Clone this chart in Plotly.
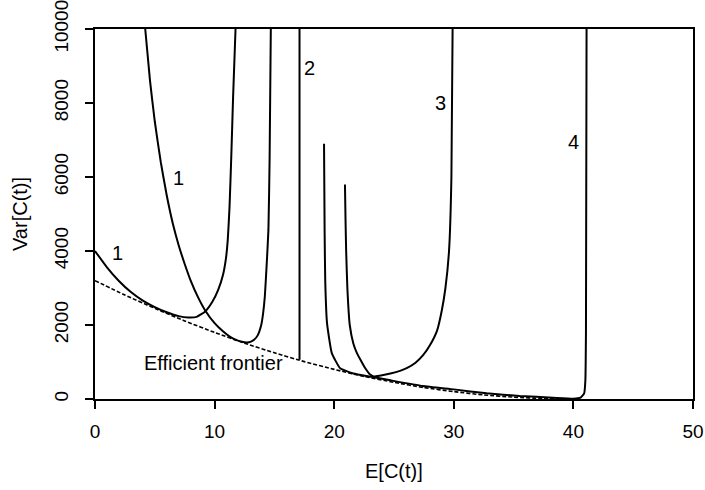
import plotly.graph_objects as go

# Efficient frontier (dotted)
frontier_x = [0, 2.5, 5, 7.5, 10, 12.5, 15, 17.5, 20, 22.5, 25, 27.5, 30, 32.5, 35, 37.5, 40]
frontier_y = [3200, 2810, 2450, 2110, 1800, 1510, 1250, 1010, 800, 610, 450, 310, 200, 110, 50, 12, 0]

# Curve "1" (lower, starting at x=0)
c1a_x = [0, 1, 2, 3, 4, 5, 6, 7, 7.8, 8.5, 9.2, 9.8, 10.3, 10.7, 10.95, 11.1, 11.25, 11.4, 11.55, 11.75]
c1a_y = [4000, 3560, 3190, 2890, 2660, 2485, 2345, 2240, 2205, 2220, 2360, 2620, 2950, 3350, 3800, 4300, 5200, 6600, 8200, 10000]

# Curve "1" (upper)
c1b_x = [4.2, 4.6, 5.0, 5.5, 6.0, 6.5, 7.0, 7.5, 8.0, 8.6, 9.2, 10.0, 10.7, 11.3, 11.85, 12.3, 12.7, 13.0, 13.3, 13.6, 13.9, 14.05, 14.2, 14.36, 14.5, 14.6, 14.7]
c1b_y = [10000, 8600, 7500, 6400, 5500, 4750, 4150, 3650, 3200, 2760, 2400, 2050, 1830, 1680, 1590, 1545, 1530, 1545, 1600, 1720, 2000, 2300, 2770, 3670, 4570, 6500, 10000]

# Curve "2" (vertical)
c2_x = [17.1, 17.1]
c2_y = [1060, 10000]

# Curve "3"
c3_x = [20.9, 20.95, 21.0, 21.1, 21.3, 21.6, 21.9, 22.3, 22.6, 23.0, 23.3, 23.8, 24.7, 25.5, 26.1, 26.8, 27.45, 28.0, 28.6, 29.0, 29.3, 29.6, 29.8, 29.9]
c3_y = [5800, 4800, 4000, 3000, 2000, 1500, 1240, 1000, 830, 660, 610, 630, 690, 760, 840, 980, 1190, 1450, 1850, 2400, 3000, 4000, 6000, 10000]

# Curve "4"
c4_x = [19.15, 19.2, 19.25, 19.4, 19.8, 20.5, 21.6, 23.1, 24.7, 27.4, 30.0, 32.75, 35.5, 38.3, 40.0, 40.6, 40.9, 41.0, 41.05, 41.1]
c4_y = [6900, 4500, 3200, 2050, 1240, 830, 690, 600, 505, 352, 260, 153, 81, 36, 10, 40, 150, 500, 1800, 10000]

label_text = ["1", "1", "2", "3", "4", "Efficient frontier"]
label_x = [1.9, 6.95, 17.9, 28.9, 40.0, 9.9]
label_y = [3950, 5980, 8950, 8000, 6950, 980]

x_ticks = [0, 10, 20, 30, 40, 50]
y_ticks = [0, 2000, 4000, 6000, 8000, 10000]

FONT = "Liberation Sans, Arial, sans-serif"
FS = 20
TFS = 19
LW = 2

fig = go.Figure()
fig.add_trace(go.Scatter(x=frontier_x, y=frontier_y, mode="lines",
                         line=dict(color="black", width=1.6, dash="4px,2px", shape="spline", smoothing=0.6)))
for xs, ys in [(c1a_x, c1a_y), (c1b_x, c1b_y), (c2_x, c2_y), (c3_x, c3_y), (c4_x, c4_y)]:
    fig.add_trace(go.Scatter(x=xs, y=ys, mode="lines",
                             line=dict(color="black", width=LW, shape="spline", smoothing=0.4)))

for t, x, y in zip(label_text, label_x, label_y):
    fig.add_annotation(x=x, y=y, text=t, showarrow=False,
                       font=dict(family=FONT, size=FS, color="black"))

fig.add_annotation(xref="paper", yref="paper", x=0.5, y=0, yshift=-85, text="E[C(t)]",
                   showarrow=False, font=dict(family=FONT, size=FS, color="black"))
fig.add_annotation(xref="paper", yref="paper", x=0, y=0.5, xshift=-88, text="Var[C(t)]",
                   textangle=-90, showarrow=False, font=dict(family=FONT, size=FS, color="black"))

fig.update_layout(
    width=705, height=490,
    margin=dict(l=95, r=12, t=29, b=91),
    paper_bgcolor="white", plot_bgcolor="white",
    showlegend=False,
    font=dict(family=FONT, size=FS, color="black"),
)
fig.update_xaxes(range=[0, 50], tickvals=x_ticks, ticktext=[str(v) for v in x_ticks],
                 ticks="outside", ticklen=8, tickwidth=1.5, automargin=False,
                 ticklabeloverflow="allow",
                 tickcolor="black", showline=True, linecolor="black", linewidth=1.5, mirror=True,
                 showgrid=False, zeroline=False, ticklabelstandoff=6,
                 tickfont=dict(family=FONT, size=TFS, color="black"))
fig.update_yaxes(range=[0, 10000], tickvals=y_ticks, ticktext=[str(v) for v in y_ticks],
                 ticks="outside", ticklen=8, tickwidth=1.5, automargin=False,
                 ticklabeloverflow="allow",
                 tickcolor="black", showline=True, linecolor="black", linewidth=1.5, mirror=True,
                 showgrid=False, zeroline=False, tickangle=-90, ticklabelstandoff=10,
                 tickfont=dict(family=FONT, size=TFS, color="black"))

fig.write_html("out.html")
